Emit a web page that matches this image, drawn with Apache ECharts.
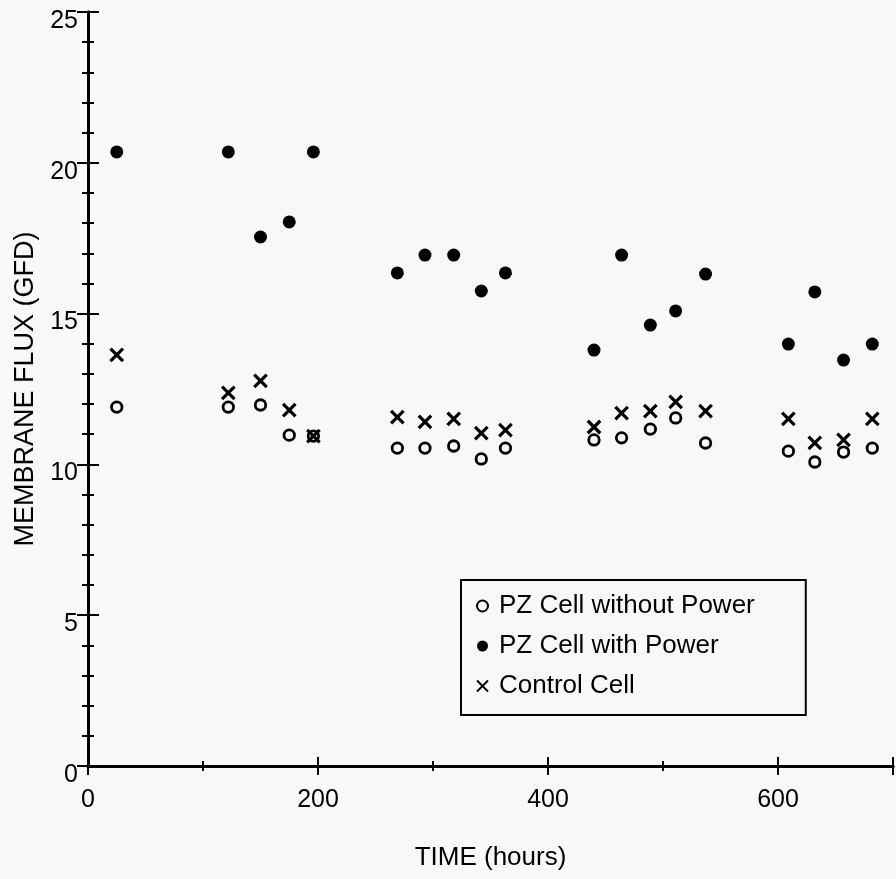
<!DOCTYPE html>
<html>
<head>
<meta charset="utf-8">
<script src="https://cdn.jsdelivr.net/npm/echarts@6/dist/echarts.min.js"></script>
<style>
html,body{margin:0;padding:0;background:#f8f8f8;}
#chart{width:896px;height:879px;}
</style>
</head>
<body>
<div id="chart"></div>
<script>
// Time (hours) of each sampling point
const timeHours = [25, 122, 150, 175, 196, 269, 293, 318, 342, 363, 440, 464, 489, 511, 537, 609, 632, 657, 682];
// PZ Cell without Power (GFD)
const pzNoPower = [11.9, 11.9, 11.97, 10.97, 10.94, 10.54, 10.54, 10.61, 10.18, 10.54, 10.81, 10.88, 11.17, 11.54, 10.71, 10.44, 10.08, 10.41, 10.54];
// PZ Cell with Power (GFD)
const pzPower = [20.36, 20.36, 17.54, 18.04, 20.36, 16.35, 16.94, 16.94, 15.75, 16.35, 13.79, 16.94, 14.62, 15.09, 16.31, 13.99, 15.72, 13.46, 13.99];
// Control Cell (GFD)
const control = [13.63, 12.37, 12.77, 11.8, 10.94, 11.57, 11.41, 11.51, 11.04, 11.14, 11.24, 11.7, 11.77, 12.07, 11.77, 11.51, 10.71, 10.81, 11.51];
const seriesNames = ['PZ Cell without Power', 'PZ Cell with Power', 'Control Cell'];
const xTicks = [0, 200, 400, 600];
const yTicks = [0, 5, 10, 15, 20, 25];

const pairs = arr => timeHours.map((t, i) => [t, arr[i]]);
const FONT = 'Liberation Sans, Arial, Helvetica, sans-serif';
const BG = '#f8f8f8';
const chart = echarts.init(document.getElementById('chart'));

const axisLine = {show: true, lineStyle: {color: '#000', width: 3}};
const xBase = {type: 'value', min: 0, max: 700, interval: 200, splitLine: {show: false}, axisLine: axisLine,
  axisTick: {show: true, inside: true, length: 9, lineStyle: {color: '#000', width: 2}},
  minorTick: {show: true, splitNumber: 2, length: 5, lineStyle: {color: '#000', width: 2}}};
const yBase = {type: 'value', min: 0, max: 25, interval: 5, splitLine: {show: false}, axisLine: axisLine,
  axisTick: {show: true, inside: true, length: 11, lineStyle: {color: '#000', width: 2}},
  minorTick: {show: true, splitNumber: 5, length: 6, lineStyle: {color: '#000', width: 2}}};

const option = {
  backgroundColor: BG,
  animation: false,
  grid: {left: 88, top: 12, width: 809, bottom: 113, containLabel: false},
  xAxis: [
    Object.assign({}, xBase, {position: 'bottom', name: 'TIME (hours)', nameLocation: 'middle', nameGap: 79,
      nameTextStyle: {fontFamily: FONT, fontSize: 26, color: '#000'},
      axisLabel: {show: true, margin: 22, fontFamily: FONT, fontSize: 25, color: '#000',
        formatter: v => xTicks.includes(v) ? String(v) : ''}}),
    Object.assign({}, xBase, {position: 'top', axisLabel: {show: false}})
  ],
  yAxis: [
    Object.assign({}, yBase, {position: 'left', name: 'MEMBRANE FLUX (GFD)', nameLocation: 'middle', nameGap: 46,
      nameTextStyle: {fontFamily: FONT, fontSize: 27, color: '#000'},
      axisLabel: {show: true, margin: 10, fontFamily: FONT, fontSize: 25, color: '#000',
        verticalAlign: 'top', lineHeight: 18,
        formatter: v => yTicks.includes(v) ? String(v) : ''}}),
    Object.assign({}, yBase, {position: 'right', axisLabel: {show: false}})
  ],
  legend: {
    orient: 'vertical', left: 461, top: 580,
    backgroundColor: BG, borderColor: '#000', borderWidth: 2,
    padding: [13, 51, 16, 15], itemGap: 14, itemWidth: 11, itemHeight: 11,
    textStyle: {fontFamily: FONT, fontSize: 26, color: '#000', padding: [0, 0, 0, 6]},
    data: seriesNames
  },
  series: [
    {name: seriesNames[0], type: 'scatter', data: pairs(pzNoPower), symbol: 'circle', symbolSize: 10.5,
      itemStyle: {color: BG, borderColor: '#000', borderWidth: 2.8, opacity: 1}},
    {name: seriesNames[1], type: 'scatter', data: pairs(pzPower), symbol: 'circle', symbolSize: 13,
      itemStyle: {color: '#000', opacity: 1}},
    {name: seriesNames[2], type: 'scatter', data: pairs(control), symbol: 'path://M0,0L10,10M10,0L0,10', symbolSize: 12.5,
      itemStyle: {color: 'transparent', borderColor: '#000', borderWidth: 3.2, opacity: 1}}
  ]
};
chart.setOption(option);
</script>
</body>
</html>
